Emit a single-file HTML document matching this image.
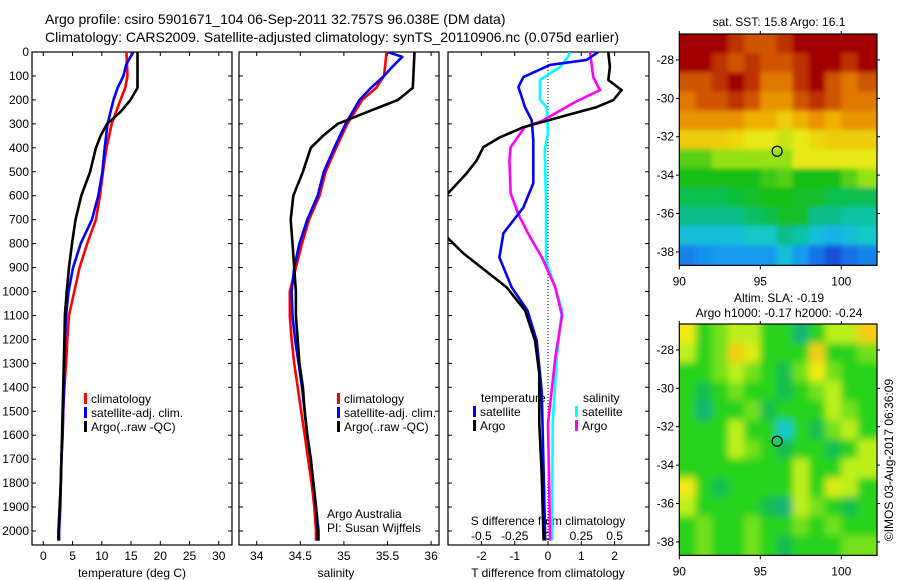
<!DOCTYPE html>
<html><head><meta charset="utf-8"><style>
html,body{margin:0;padding:0;background:#fff}
svg{display:block;font-family:"Liberation Sans",sans-serif}
</style></head><body>
<svg id="chart" width="900" height="580" viewBox="0 0 900 580" xmlns="http://www.w3.org/2000/svg">
<defs>
<clipPath id="c1"><rect x="32" y="52" width="200" height="493"/></clipPath>
<clipPath id="c2"><rect x="239" y="52" width="200" height="493"/></clipPath>
<clipPath id="c3"><rect x="448" y="52" width="201" height="493"/></clipPath>
<clipPath id="cm1"><rect x="679" y="34" width="198" height="232"/></clipPath>
<clipPath id="cm2"><rect x="679" y="324" width="198" height="232"/></clipPath>
<filter id="blur" x="-5%" y="-5%" width="110%" height="110%"><feGaussianBlur stdDeviation="4"/></filter>
<filter id="blur2" x="-5%" y="-5%" width="110%" height="110%"><feGaussianBlur stdDeviation="2.5"/></filter>
</defs>
<g id="titles" font-size="14">
<text x="45" y="24">  Argo profile: csiro 5901671_104 06-Sep-2011 32.757S 96.038E (DM data)</text>
<text x="45" y="42">Climatology: CARS2009. Satellite-adjusted climatology: synTS_20110906.nc (0.075d earlier)</text>
</g>
<g id="layer"></g>
</svg>
<script>
// ---------- data ----------
const depthTicks = [0,100,200,300,400,500,600,700,800,900,1000,1100,1200,1300,1400,1500,1600,1700,1800,1900,2000];
const tempTicks = [0,5,10,15,20,25,30];
const salTicks = [34,34.5,35,35.5,36];
const tDiffTicks = [-2,-1,0,1,2];
const sDiffTicks = [-0.5,-0.25,0,0.25,0.5];
const lonTicks = [90,95,100];
const latTicks = [-28,-30,-32,-34,-36,-38];

const profDepth = [0,50,100,150,200,300,400,500,600,700,800,900,1000,1100,1200,1300,1400,1500,1600,1700,1800,1900,2000,2040];
const tempClim = [14.2,14.3,14.4,14.0,13.2,11.7,10.8,10.2,9.7,9.0,7.5,6.2,5.3,4.4,4.1,3.9,3.6,3.4,3.3,3.1,3.0,2.8,2.6,2.6];
const tempSat  = [15.4,14.2,13.7,12.7,12.0,11.0,10.5,10.1,9.4,8.3,6.4,5.1,4.3,3.9,3.7,3.6,3.5,3.4,3.3,3.1,3.0,2.9,2.7,2.7];
const tempArgoDepth = [0,150,200,250,300,350,400,500,600,700,800,900,1000,1100,1200,1300,1400,1500,1600,1700,1800,1900,2000,2040];
const tempArgo = [16.1,16.1,14.9,13.2,10.9,9.8,9.0,8.0,6.5,5.5,4.9,4.4,4.0,3.7,3.6,3.5,3.4,3.3,3.2,3.1,3.0,2.8,2.6,2.6];

const salClimDepth = [0,100,150,200,300,400,500,600,700,800,900,1000,1100,1200,1300,1400,1500,1600,1700,1800,1900,2000,2040];
const salClim = [35.49,35.46,35.37,35.21,35.04,34.91,34.79,34.72,34.60,34.52,34.45,34.38,34.38,34.40,34.43,34.47,34.51,34.55,34.59,34.63,34.66,34.68,34.68];
const salSatDepth = [0,20,60,100,150,200,300,400,500,600,700,800,900,1000,1100,1200,1300,1400,1500,1600,1700,1800,1900,2000,2040];
const salSat = [35.50,35.67,35.56,35.46,35.31,35.18,35.02,34.89,34.77,34.70,34.58,34.49,34.43,34.40,34.41,34.44,34.48,34.52,34.55,34.58,34.62,34.65,34.68,34.71,34.71];
const salArgoDepth = [0,150,200,250,300,350,400,500,600,700,800,900,1000,1100,1200,1300,1400,1500,1600,1700,1800,1900,2000,2040];
const salArgo = [35.81,35.79,35.62,35.27,34.93,34.76,34.62,34.53,34.42,34.39,34.41,34.43,34.45,34.45,34.47,34.49,34.53,34.55,34.58,34.62,34.65,34.68,34.70,34.70];

const tDiffArgoDepth = [0,63,117,159,201,230,264,314,356,397,452,506,590,650,700,778,841,900,983,1079,1205,1343,1552,1761,2000,2040];
const tDiffArgo = [1.81,1.86,1.81,2.21,1.96,1.46,0.56,-0.74,-1.44,-1.94,-2.14,-2.44,-3.0,-3.6,-3.5,-3.0,-2.54,-2.0,-1.24,-0.69,-0.39,-0.26,-0.26,-0.19,-0.14,-0.13];
const tDiffSatDepth = [0,33,54,105,146,230,285,368,548,649,757,858,983,1079,1205,1414,1695,2000,2040];
const tDiffSat = [1.51,1.16,0.06,-0.74,-0.89,-0.69,-0.49,-0.44,-0.44,-0.74,-1.34,-1.46,-1.09,-0.62,-0.34,-0.19,-0.14,-0.09,-0.09];
const sDiffSatDepth = [0,21,63,117,201,230,339,410,619,870,983,1079,1276,1552,2000,2040];
const sDiffSat = [0.165,0.15,0.09,-0.06,-0.06,-0.01,0.0,-0.025,-0.015,-0.015,0.055,0.105,0.065,0.035,0.03,0.03];
const sDiffArgoDepth = [0,105,159,213,285,314,397,452,590,674,757,858,983,1100,1276,1552,1833,2000,2040];
const sDiffArgo = [0.315,0.34,0.39,0.19,-0.035,-0.175,-0.28,-0.29,-0.28,-0.225,-0.15,-0.045,0.055,0.105,0.055,0.0,0.01,0.015,0.015];

// SST map (colour index 0..10), rows north->south, 1 degree cells from 90E
const sstGrid = [
[9.5,9.5,9.5,9,8.5,8.5,9,9.5,9.5,9.5,9.5,9.5],
[9.5,9.5,9,8.5,9,8.5,8.5,9,9.5,9.5,9,9.5],
[8.5,8.5,9,9.5,9,8,8,9,9.5,8.5,8,8.5],
[8,8.5,8.5,9,8.5,7.5,7.5,8.5,9,8.5,8,8],
[7.5,7.5,7.5,7.5,7,7,6.5,7,7.5,7,7.5,7.5],
[6.5,6.5,6.5,6.3,6,6,5.8,6,6.3,6.5,6.5,6.5],
[5,5,5.5,5.5,5.5,5.5,5.5,6,6,6,6,6],
[4.5,4.5,4.5,4.5,4.5,4.8,5,4.5,4.5,4.5,5,5.5],
[4,4,4,4.2,4.3,4.5,4.5,4.3,4.3,4,4,4],
[3.5,3.5,3.5,3.5,3.8,4,4.3,4.3,3.5,3.5,3.3,3.3],
[2.8,2.8,2.8,2.8,3,3,3.5,3.3,2.8,2.6,2.8,3],
[2,2.2,2.3,2.3,2.3,2.3,2.8,2.3,1.8,1.2,1.8,2]];
const slaGrid = [
[6.5,5,5.5,6,6,5,5,4,5,6,6,6.8],
[6,5,5.5,6.8,6.3,5,5,5,6.8,5,5,5.5],
[5,5,5.5,6,5.5,5,4.5,5.5,6.5,5.5,5,5],
[5,4.5,5,5.5,5,5,4.5,5,5.5,6,5,5],
[5,4,5,5,5.5,4.5,5,5,5,6,5.5,5],
[5,5,5,6,5,5,3.5,5,4.5,5.5,6,5],
[5,5,5,6,5.5,5,4.5,5,5,4.5,5,6],
[5,5,5,5,5,5,5,6,5,5,6,6],
[6.5,5,4.5,5,5,5,5,6,5,6.3,6,5],
[6,5,5,5,5,4.5,4,6,5.5,5,4.5,5],
[5,5.5,5,5,5.5,5,5,5.5,5,5.5,5,5],
[5,5.5,5,5,5.5,5,4.5,5,5,5,5.5,5.5]];
const argoLon = [96.038];
const argoLat = [-32.757];

// ---------- scales ----------
const yD = d => 52 + d*0.2395;
const xT = t => 43.3 + 5.85*t;
const xS = s => 256.7 + 87.2*(s-34);
const xTd = t => 548 + 33.3*t;
const xSd = s => 548 + 133.2*s;
const xLon = l => 679.3 + (l-90)*16.2;
const yLat1 = l => 34 + (-26.65-l)*19.2;
const yLat2 = l => 324 + (-26.65-l)*19.2;

const NS='http://www.w3.org/2000/svg';
const layer=document.getElementById('layer');
function mk(tag,attrs,parent){const e=document.createElementNS(NS,tag);for(const k in attrs)e.setAttribute(k,attrs[k]);(parent||layer).appendChild(e);return e;}
function txt(x,y,s,anchor,size,parent){const e=mk('text',{x:x,y:y,'text-anchor':anchor||'start','font-size':size||12},parent);e.textContent=s;return e;}

function line(depths,vals,xf,color,clip,name){
  const pts=depths.map((d,i)=>xf(vals[i]).toFixed(1)+','+yD(d).toFixed(1)).join(' ');
  const p=mk('polyline',{points:pts,fill:'none',stroke:color,'stroke-width':2.6,'stroke-linejoin':'round','clip-path':'url(#'+clip+')'});
  
  
}
function panel(x0,x1,name){
  const r=mk('rect',{x:x0,y:52,width:x1-x0,height:493,fill:'none',stroke:'#000','stroke-width':1.2});
  
  
  depthTicks.forEach(d=>{mk('line',{x1:x0,x2:x0+4,y1:yD(d),y2:yD(d),stroke:'#000'});mk('line',{x1:x1,x2:x1-4,y1:yD(d),y2:yD(d),stroke:'#000'});});
}
function xticks(vals,xf,labY){
  vals.forEach(v=>{const x=xf(v);mk('line',{x1:x,x2:x,y1:52,y2:56,stroke:'#000'});mk('line',{x1:x,x2:x,y1:545,y2:541,stroke:'#000'});
    const t=txt(x,labY,String(v),'middle',12);
    
    });
}
function legend(x,y,color,label){
  mk('rect',{x:x,y:y-10,width:3,height:11,fill:color});
  const t=txt(x+7,y,label,'start',12);
  
  
}

// depth labels
depthTicks.forEach(d=>{const t=txt(29,yD(d)+4,String(d),'end',12);
  
  });

// panel 1 temperature
panel(32,232,'temperature-panel');
xticks(tempTicks,xT,560);
const a1=txt(132,577,'temperature (deg C)','middle',12);


line(profDepth,tempClim,xT,'#ff0000','c1','temp-climatology-line');
line(profDepth,tempSat,xT,'#0000ff','c1','temp-satellite-line');
line(tempArgoDepth,tempArgo,xT,'#000000','c1','temp-argo-line');
legend(84,403,'#ff0000','climatology');
legend(84,417,'#0000ff','satellite-adj. clim.');
legend(84,431,'#000000','Argo(..raw -QC)');

// panel 2 salinity
panel(239,439,'salinity-panel');
xticks(salTicks,xS,560);
const a2=txt(336,577,'salinity','middle',12);


line(salClimDepth,salClim,xS,'#ff0000','c2','sal-climatology-line');
line(salSatDepth,salSat,xS,'#0000ff','c2','sal-satellite-line');
line(salArgoDepth,salArgo,xS,'#000000','c2','sal-argo-line');
legend(337,403,'#ff0000','climatology');
legend(337,417,'#0000ff','satellite-adj. clim.');
legend(337,431,'#000000','Argo(..raw -QC)');
const aa=txt(327,518,'Argo Australia','start',12);


const pi=txt(327,532,'PI: Susan Wijffels','start',12);



// panel 3 differences
panel(448,649,'difference-panel');
mk('line',{x1:548,x2:548,y1:52,y2:545,stroke:'#000','stroke-dasharray':'1,2'});
xticks(tDiffTicks,xTd,560);
sDiffTicks.forEach(v=>{const t=txt(xSd(v),540,String(v),'middle',12);
  
  });
const sd=txt(548,525,'S difference from climatology','middle',12);


const td=txt(548,577,'T difference from climatology','middle',12);


line(sDiffSatDepth,sDiffSat,xSd,'#00ffff','c3','s-diff-satellite-line');
line(sDiffArgoDepth,sDiffArgo,xSd,'#ff00ff','c3','s-diff-argo-line');
line(tDiffSatDepth,tDiffSat,xTd,'#0000ff','c3','t-diff-satellite-line');
line(tDiffArgoDepth,tDiffArgo,xTd,'#000000','c3','t-diff-argo-line');
const lt=txt(481,402,'temperature','start',12);


const ls=txt(583,402,'salinity','start',12);


legend(473,416,'#0000ff','satellite');
legend(473,430,'#000000','Argo');
legend(575,416,'#00ffff','satellite');
legend(575,430,'#ff00ff','Argo');

// ---------- maps ----------
function lerpColor(stops,v){
  for(let i=1;i<stops.length;i++){if(v<=stops[i][0]){const [a,ca]=stops[i-1],[b,cb]=stops[i];const f=(v-a)/(b-a);
    return 'rgb('+[0,1,2].map(k=>Math.round(ca[k]+(cb[k]-ca[k])*f)).join(',')+')';}}
  const c=stops[stops.length-1][1];return 'rgb('+c.join(',')+')';
}
const sstStops=[[0,[16,40,190]],[1.5,[20,90,225]],[2.5,[20,170,240]],[3,[20,200,200]],[3.5,[10,190,140]],[4.5,[20,190,20]],[5.5,[150,225,20]],[6,[232,232,20]],[7,[240,176,0]],[8,[224,120,0]],[9,[190,50,0]],[9.5,[160,0,0]]];
const slaStops=[[3.5,[20,200,210]],[4,[20,180,120]],[4.5,[20,190,80]],[5,[40,210,30]],[6,[190,240,30]],[6.5,[240,235,20]],[7,[245,185,20]]];
function cmap(stops,v){if(v<=stops[0][0]){const c=stops[0][1];return 'rgb('+c.join(',')+')';}return lerpColor(stops,v);}

function drawMap(grid,stops,yLat,clip,name,filt){
  const g=mk('g',{'clip-path':'url(#'+clip+')'});
  
  
  const inner=mk('g',{filter:'url(#'+filt+')'},g);
  grid.forEach((row,j)=>row.forEach((v,i)=>{
    const x0=xLon(90+i)-(i==0?10:0),x1=xLon(91+i)+(i==row.length-1?10:0);
    const la0=-26.65-j, la1=-27.65-j;
    const y0=yLat(la0)-(j==0?10:0), y1=yLat(la1)+(j==grid.length-1?10:0);
    const r=mk('rect',{x:x0.toFixed(1),y:y0.toFixed(1),width:(x1-x0+0.6).toFixed(1),height:(y1-y0+0.6).toFixed(1),fill:cmap(stops,v)},inner);
    
    
  }));
  const top=yLat(-26.65),bot=yLat(-38.7);
  mk('rect',{x:679.3,y:top,width:197.7,height:bot-top,fill:'none',stroke:'#000','stroke-width':1.2});
  lonTicks.forEach(l=>{const x=xLon(l);mk('line',{x1:x,x2:x,y1:top,y2:top-3,stroke:'#000'});mk('line',{x1:x,x2:x,y1:bot,y2:bot+4,stroke:'#000'});
    const t=txt(x,bot+20,String(l),'middle',12);
    
    });
  latTicks.forEach(l=>{const y=yLat(l);mk('line',{x1:679.3,x2:676,y1:y,y2:y,stroke:'#000'});mk('line',{x1:877,x2:880,y1:y,y2:y,stroke:'#000'});
    const t=txt(674,y+4,String(l),'end',12);
    
    });
  argoLon.forEach((lo,k)=>{const c=mk('circle',{cx:xLon(lo),cy:yLat(argoLat[k]),r:5,fill:'none',stroke:'#000','stroke-width':1.2});
    
    });
}
drawMap(sstGrid,sstStops,yLat1,'cm1','sst-map','blur2');
drawMap(slaGrid,slaStops,yLat2,'cm2','sla-map','blur');
const m1=txt(779,26,'sat. SST: 15.8 Argo: 16.1','middle',12);


const m2=txt(779,302,'Altim. SLA: -0.19','middle',12);


const m3=txt(779,317,'Argo h1000: -0.17 h2000: -0.24','middle',12);


const cr=txt(0,0,'©IMOS 03-Aug-2017 06:36:09','middle',12);
cr.setAttribute('transform','translate(893,460) rotate(-90)');


</script>
</body></html>
